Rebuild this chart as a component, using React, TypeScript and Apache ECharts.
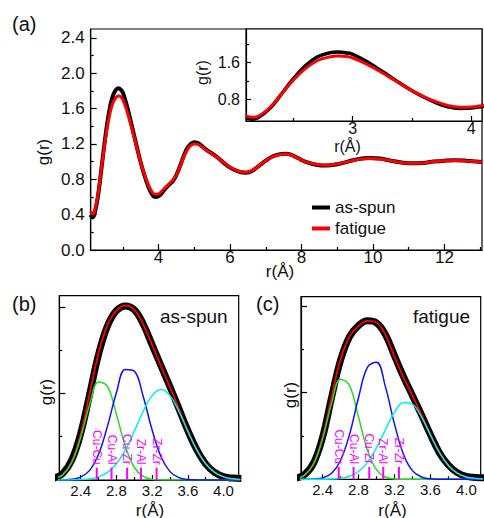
import React, { useEffect, useRef } from 'react';
import * as echarts from 'echarts';

const FONT = '"Liberation Sans", Arial, Helvetica, sans-serif';

// ---------- panel (a): g(r) ----------
const mainR = [2.1, 2.15, 2.2, 2.3, 2.4, 2.5, 2.6, 2.7, 2.8, 2.88, 2.95, 3.0, 3.1, 3.2, 3.3, 3.4, 3.5, 3.6, 3.7, 3.8, 3.9, 4.0, 4.1, 4.2, 4.3, 4.4, 4.5, 4.6, 4.7, 4.8, 4.9, 5.0, 5.1, 5.2, 5.35, 5.5, 5.7, 5.9, 6.1, 6.3, 6.45, 6.6, 6.8, 7.0, 7.2, 7.4, 7.55, 7.7, 7.9, 8.1, 8.4, 8.7, 9.0, 9.3, 9.6, 9.9, 10.2, 10.5, 10.8, 11.1, 11.4, 11.7, 12.0, 12.3, 12.6, 12.9, 13.05];
const mainAsSpun = [0.40, 0.37, 0.40, 0.60, 0.92, 1.25, 1.53, 1.72, 1.81, 1.83, 1.81, 1.78, 1.65, 1.49, 1.32, 1.15, 0.99, 0.85, 0.73, 0.64, 0.60, 0.61, 0.65, 0.70, 0.74, 0.78, 0.85, 0.95, 1.06, 1.15, 1.20, 1.22, 1.21, 1.18, 1.13, 1.09, 1.03, 0.96, 0.91, 0.88, 0.875, 0.89, 0.95, 1.01, 1.06, 1.085, 1.09, 1.08, 1.04, 1.00, 0.965, 0.955, 0.97, 1.00, 1.03, 1.04, 1.035, 1.01, 0.99, 0.98, 0.985, 1.00, 1.01, 1.015, 1.01, 1.00, 0.995];
const mainFatigue = [0.44, 0.41, 0.43, 0.62, 0.92, 1.22, 1.47, 1.64, 1.72, 1.745, 1.73, 1.70, 1.59, 1.45, 1.30, 1.14, 0.99, 0.86, 0.75, 0.67, 0.63, 0.635, 0.67, 0.71, 0.75, 0.79, 0.85, 0.94, 1.05, 1.13, 1.18, 1.20, 1.195, 1.17, 1.125, 1.085, 1.03, 0.965, 0.915, 0.885, 0.88, 0.895, 0.95, 1.01, 1.055, 1.08, 1.085, 1.075, 1.04, 1.00, 0.97, 0.96, 0.975, 1.00, 1.025, 1.035, 1.03, 1.01, 0.99, 0.98, 0.985, 1.00, 1.01, 1.012, 1.008, 1.00, 0.995];

const mainXTicks = [4, 6, 8, 10, 12];
const mainXMinor = [3, 5, 7, 9, 11, 13];
const mainYTicks = [0, 0.4, 0.8, 1.2, 1.6, 2.0, 2.4];
const mainYMinor = [0.2, 0.6, 1.0, 1.4, 1.8, 2.2];
const insetXTicks = [3, 4];
const insetXMinor = [2.5, 3.5];
const insetYTicks = [0.8, 1.6];
const insetYMinor = [0.4, 1.2, 2.0];

// ---------- panels (b), (c): first-peak fits ----------
const fitR = [2.1, 2.2, 2.3, 2.4, 2.5, 2.6, 2.7, 2.8, 2.9, 3.0, 3.1, 3.2, 3.3, 3.4, 3.5, 3.6, 3.7, 3.8, 3.9, 4.0, 4.1, 4.2];
const bAsSpun = [0.02, 0.07, 0.21, 0.49, 0.90, 1.32, 1.62, 1.78, 1.83, 1.79, 1.64, 1.42, 1.20, 0.98, 0.75, 0.52, 0.32, 0.17, 0.08, 0.035, 0.02, 0.015];
const bFit = [0.013, 0.058, 0.194, 0.482, 0.906, 1.334, 1.630, 1.779, 1.834, 1.791, 1.637, 1.420, 1.195, 0.975, 0.747, 0.518, 0.318, 0.171, 0.080, 0.033, 0.012, 0.004];
const bGreen = [0.013, 0.057, 0.186, 0.448, 0.793, 1.030, 0.984, 0.690, 0.355, 0.134, 0.037, 0.008, 0.001, 0, 0, 0, 0, 0, 0, 0, 0, 0];
const bBlue = [0, 0.001, 0.007, 0.030, 0.101, 0.271, 0.566, 0.918, 1.162, 1.144, 0.878, 0.525, 0.244, 0.088, 0.025, 0.005, 0.001, 0, 0, 0, 0, 0];
const bCyan = [0, 0, 0.001, 0.004, 0.012, 0.033, 0.080, 0.171, 0.317, 0.513, 0.722, 0.887, 0.950, 0.887, 0.722, 0.513, 0.317, 0.171, 0.080, 0.033, 0.012, 0.004];

const cFatigue = [0.01, 0.05, 0.17, 0.44, 0.86, 1.25, 1.50, 1.615, 1.665, 1.645, 1.52, 1.30, 1.08, 0.88, 0.68, 0.47, 0.28, 0.15, 0.07, 0.03, 0.02, 0.015];
const cFit = [0.008, 0.043, 0.164, 0.441, 0.861, 1.261, 1.500, 1.612, 1.664, 1.648, 1.517, 1.289, 1.071, 0.880, 0.681, 0.472, 0.283, 0.146, 0.064, 0.024, 0.008, 0.002];
const cGreen = [0.008, 0.043, 0.161, 0.425, 0.795, 1.052, 0.985, 0.653, 0.306, 0.101, 0.024, 0.004, 0, 0, 0, 0, 0, 0, 0, 0, 0, 0];
const cBlue = [0, 0, 0.003, 0.015, 0.063, 0.198, 0.472, 0.857, 1.179, 1.229, 0.971, 0.582, 0.264, 0.091, 0.024, 0.005, 0.001, 0, 0, 0, 0, 0];
const cCyan = [0, 0, 0, 0.001, 0.003, 0.011, 0.032, 0.082, 0.178, 0.330, 0.522, 0.703, 0.807, 0.789, 0.657, 0.467, 0.282, 0.146, 0.064, 0.024, 0.008, 0.002];

const bondR = [2.58, 2.745, 2.92, 3.075, 3.25];
const bondLabels = ['Cu-Cu', 'Cu-Al', 'Cu-Zr', 'Zr-Al', 'Zr-Zr'];

const fitXTicks = [2.4, 2.8, 3.2, 3.6, 4.0];
const fitXMinor = [2.6, 3.0, 3.4, 3.8];
const fitYTicks = [0, 0.91, 1.82];
const fitYMinor = [0.455, 1.365];

function zip(xs: number[], ys: number[]) {
  return xs.map((x, i) => [x, ys[i]]);
}

function axisPair(
  dir: 'x' | 'y',
  gridIndex: number,
  min: number,
  max: number,
  major: number[],
  minor: number[],
  fmt: ((v: number) => string) | null,
  labelSize: number,
  labelMargin: number,
  majorLen: number,
  minorLen: number
) {
  const position = dir === 'x' ? 'bottom' : 'left';
  const common: any = { type: 'value', gridIndex, min, max, position, splitLine: { show: false } };
  const majorAxis: any = {
    ...common,
    axisLine: { show: true, onZero: false, lineStyle: { color: '#000', width: 1.2 } },
    axisTick: { show: true, inside: true, length: majorLen, lineStyle: { color: '#000', width: 1.2 }, customValues: major },
    axisLabel: fmt
      ? { show: true, customValues: major, formatter: fmt, fontSize: labelSize, fontFamily: FONT, color: '#111', margin: labelMargin }
      : { show: false },
  };
  const minorAxis: any = {
    ...common,
    axisLine: { show: false, onZero: false },
    axisTick: { show: true, inside: true, length: minorLen, lineStyle: { color: '#000', width: 1.2 }, customValues: minor },
    axisLabel: { show: false },
  };
  return [majorAxis, minorAxis];
}

function lineSeries(name: string, xi: number, data: number[][], color: string, width: number, z: number) {
  return {
    type: 'line',
    name,
    xAxisIndex: xi,
    yAxisIndex: xi,
    data,
    showSymbol: false,
    symbol: 'none',
    smooth: 0.4,
    lineStyle: { color, width },
    itemStyle: { color },
    z,
  };
}

function markerSeries(xi: number) {
  return {
    type: 'custom',
    xAxisIndex: xi,
    yAxisIndex: xi,
    z: 20,
    data: bondR.map((r, i) => [r, i]),
    renderItem: (_params: any, api: any) => {
      const r = api.value(0);
      const idx = api.value(1);
      const p0 = api.coord([r, 0]);
      const p1 = api.coord([r, 0.13]);
      const pt = api.coord([r, 0.16]);
      return {
        type: 'group',
        children: [
          { type: 'line', shape: { x1: p0[0], y1: p0[1], x2: p1[0], y2: p1[1] }, style: { stroke: '#ff00ff', lineWidth: 2 } },
          {
            type: 'text',
            x: pt[0],
            y: pt[1],
            rotation: -Math.PI / 2,
            style: { text: bondLabels[idx], fill: '#ff00ff', fontSize: 12, fontFamily: FONT, align: 'right', verticalAlign: 'middle' },
          },
        ],
      };
    },
  };
}

export default function App() {
  const ref = useRef<HTMLDivElement>(null);

  useEffect(() => {
    if (!ref.current) return;
    const chart = echarts.init(ref.current, undefined, { renderer: 'svg' });
    const f1 = (v: number) => v.toFixed(1);
    const f0 = (v: number) => String(v);

    const xAxis = [
      ...axisPair('x', 0, 2.1, 13.05, mainXTicks, mainXMinor, f0, 17, -1, 6, 3),
      ...axisPair('x', 1, 2.1, 4.09, insetXTicks, insetXMinor, f0, 16, -1, 5, 3),
      ...axisPair('x', 2, 2.16, 4.17, fitXTicks, fitXMinor, f1, 15, 3, 5, 3),
      ...axisPair('x', 3, 2.16, 4.16, fitXTicks, fitXMinor, f1, 15, 3, 5, 3),
    ];
    const yAxis = [
      ...axisPair('y', 0, 0, 2.5, mainYTicks, mainYMinor, f1, 17, 6, 6, 3),
      ...axisPair('y', 1, 0.33, 2.33, insetYTicks, insetYMinor, f1, 16, 6, 5, 3),
      ...axisPair('y', 2, 0, 1.937, fitYTicks, fitYMinor, null, 15, 5, 6, 3),
      ...axisPair('y', 3, 0, 1.919, fitYTicks, fitYMinor, null, 15, 5, 6, 3),
    ];

    const txt = (text: string, x: number, y: number, size: number, extra: any = {}) => ({
      type: 'text',
      x,
      y,
      ...extra,
      style: { text, fill: '#111', fontSize: size, fontFamily: FONT, align: extra.align || 'left', verticalAlign: 'middle' },
      z: 50,
    });

    const option: any = {
      animation: false,
      backgroundColor: '#fff',
      grid: [
        { left: 90.7, top: 29, width: 391.3, height: 221, show: true, borderColor: '#000', borderWidth: 1.2 },
        { left: 246, top: 29, width: 236, height: 92, show: true, borderColor: '#000', borderWidth: 1.2, backgroundColor: '#fff' },
        { left: 59.3, top: 295.7, width: 179.4, height: 184.3, show: true, borderColor: '#000', borderWidth: 1.2 },
        { left: 301, top: 296.7, width: 179.7, height: 182.6, show: true, borderColor: '#000', borderWidth: 1.2 },
      ],
      xAxis,
      yAxis,
      legend: {
        orient: 'vertical',
        left: 312,
        top: 199,
        padding: 0,
        itemWidth: 18,
        itemHeight: 4,
        itemGap: 4,
        icon: 'rect',
        data: ['as-spun', 'fatigue'],
        textStyle: { fontSize: 17, fontFamily: FONT, color: '#111', lineHeight: 17 },
      },
      series: [
        lineSeries('as-spun', 0, zip(mainR, mainAsSpun), '#000000', 4, 2),
        lineSeries('fatigue', 0, zip(mainR, mainFatigue), '#ff0000', 3, 3),
        lineSeries('as-spun', 2, zip(mainR, mainAsSpun), '#000000', 3.5, 4),
        lineSeries('fatigue', 2, zip(mainR, mainFatigue), '#ff0000', 3, 5),
        lineSeries('as-spun (b)', 4, zip(fitR, bAsSpun), '#000000', 7, 2),
        lineSeries('fit (b)', 4, zip(fitR, bFit), '#ff0000', 1.8, 3),
        lineSeries('peak1 (b)', 4, zip(fitR, bGreen), '#22dd22', 1.5, 4),
        lineSeries('peak2 (b)', 4, zip(fitR, bBlue), '#1010ff', 1.5, 5),
        lineSeries('peak3 (b)', 4, zip(fitR, bCyan), '#00eeee', 1.5, 6),
        markerSeries(4),
        lineSeries('fatigue (c)', 6, zip(fitR, cFatigue), '#000000', 7, 2),
        lineSeries('fit (c)', 6, zip(fitR, cFit), '#ff0000', 1.8, 3),
        lineSeries('peak1 (c)', 6, zip(fitR, cGreen), '#22dd22', 1.5, 4),
        lineSeries('peak2 (c)', 6, zip(fitR, cBlue), '#1010ff', 1.5, 5),
        lineSeries('peak3 (c)', 6, zip(fitR, cCyan), '#00eeee', 1.5, 6),
        markerSeries(6),
      ],
      graphic: [
        txt('(a)', 12, 24, 20),
        txt('(b)', 12, 304, 20),
        txt('(c)', 256, 303.5, 20),
        txt('g(r)', 43.3, 152, 17, { rotation: Math.PI / 2, align: 'center' }),
        txt('r(Å)', 280, 271, 17, { align: 'center' }),
        txt('g(r)', 202.5, 72.5, 16, { rotation: Math.PI / 2, align: 'center' }),
        txt('r(Å)', 347.5, 146, 16, { align: 'center' }),
        txt('g(r)', 46.7, 392, 17, { rotation: Math.PI / 2, align: 'center' }),
        txt('r(Å)', 150, 510, 17, { align: 'center' }),
        txt('g(r)', 290.8, 395, 17, { rotation: Math.PI / 2, align: 'center' }),
        txt('r(Å)', 392.5, 510, 17, { align: 'center' }),
        txt('as-spun', 160, 316, 19),
        txt('fatigue', 413, 316.7, 19),
      ],
    };
    chart.setOption(option);
    return () => chart.dispose();
  }, []);

  return <div ref={ref} style={{ position: 'absolute', left: 0, top: 0, width: 484, height: 518 }} />;
}
